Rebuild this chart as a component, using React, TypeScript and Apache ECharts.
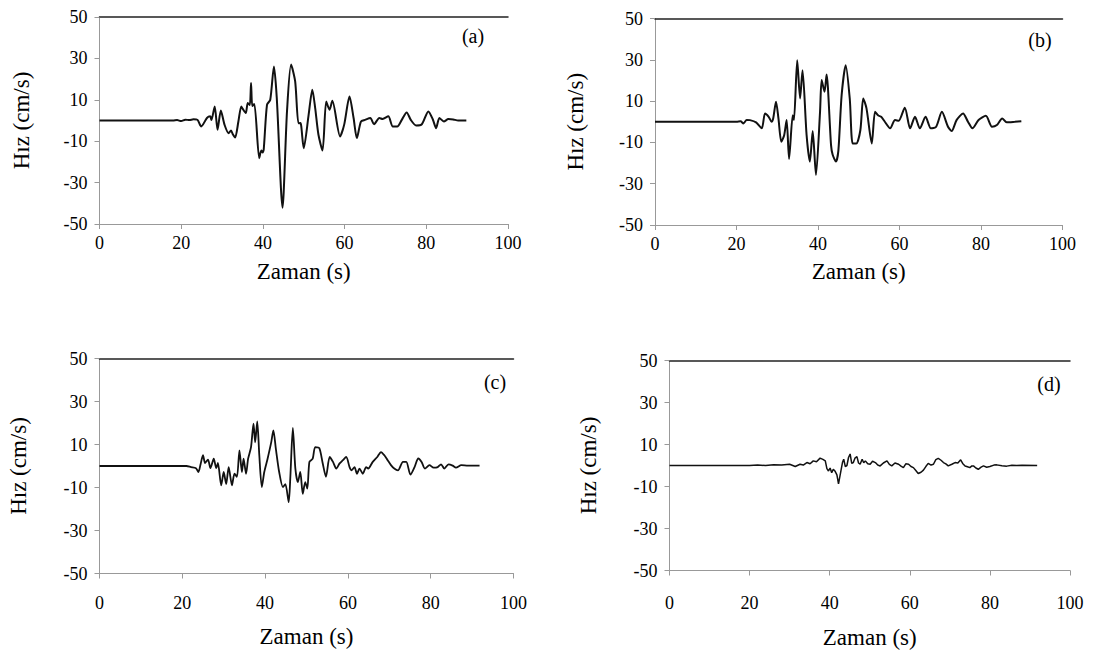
import React, { useEffect, useRef } from "react";
import * as echarts from "echarts";

const panelLabels = ["(a)", "(b)", "(c)", "(d)"];
const xTitle = "Zaman (s)";
const yTitle = "Hız (cm/s)";
const xMin = 0, xMax = 100, xStep = 20;
const yMin = -50, yMax = 50, yStep = 20;

const seriesA: number[][] = [[0,0],[18,0],[19,0.2],[20,-0.3],[21,0.4],[22,0.2],[23,0.6],[24,0.3],[24.9,-2.9],[26.3,1.2],[27.1,2],[27.4,0.2],[28.2,6.8],[28.9,-4.5],[29.7,4.8],[30.6,-2],[31.6,-6.1],[32.2,-4.8],[32.6,-6.5],[33.2,-8.2],[34.0,-0.5],[34.7,6.8],[35.1,5.5],[35.8,3.6],[36.3,8.4],[36.8,7.5],[37.1,18.1],[37.4,7],[37.9,8],[39.1,-18.2],[39.6,-14.5],[39.9,-15.5],[40.2,-14],[41.0,7.6],[41.8,10],[42.7,26.1],[43.4,10.8],[44.8,-42.1],[45.9,4.4],[46.9,27],[47.9,18.9],[48.7,-1.3],[49.2,-1.2],[49.4,-3],[50.0,-13.4],[51.2,2.8],[52.1,14.9],[52.8,6],[53.6,-6.9],[54.6,-14.5],[55.5,9.2],[56.3,5.2],[57.0,9.5],[58.9,-7.7],[59.9,-2],[61.2,11.6],[62.2,1.2],[63.0,-8.5],[64.0,-0.5],[65.0,0.3],[66.3,1.2],[67.2,-1.8],[68.5,1.2],[69.3,0.7],[70.7,2],[71.8,-2.9],[72.9,-2.9],[74.0,0.3],[75.2,3.9],[76.2,0.3],[77.5,-2.4],[78.9,-1.8],[80.5,4.4],[81.6,0.5],[82.4,-3.7],[83.2,1.2],[84.3,-0.5],[85.4,0.7],[86.6,0.5],[87.8,0],[89.8,0]];

const seriesB: number[][] = [[0,0],[20,0],[21,0.2],[21.7,-0.8],[22.5,0.9],[23.3,0.8],[24.8,-0.3],[26.2,-3.2],[27.0,4],[27.9,2.4],[28.6,0],[29.0,1.6],[29.7,9.7],[30.3,1.5],[31.0,-9.7],[31.7,-6.5],[32.3,0.8],[32.9,-18],[33.8,3.2],[34.1,0.8],[34.9,29.8],[35.6,11.3],[36.2,25],[37.2,-6.4],[38.0,-19.3],[38.7,-4.5],[39.5,-25.8],[40.5,4.8],[40.9,20.2],[41.6,14.5],[42.1,22.9],[43.2,-11.3],[43.6,-16],[44.4,-19.3],[45.0,-14],[45.8,12.9],[46.8,27.4],[47.8,11],[48.5,-10.5],[49.4,-10.5],[50.4,-4],[51.1,11.3],[51.9,6.5],[53.2,-10.5],[54.0,4.8],[54.8,3],[55.5,2.4],[56.4,0],[57.7,-3.2],[58.9,0.8],[59.8,0.5],[61.3,6.8],[62.6,-3.2],[63.8,2.4],[65.0,-3.2],[66.4,2.4],[67.7,-3.2],[69.0,-2.4],[70.4,4.8],[71.9,-2.4],[72.8,-4.5],[74.0,0.8],[75.6,4],[76.8,0],[77.9,-3.2],[79.4,0.8],[81.2,2.9],[82.7,-2.4],[83.9,-1.6],[85.2,1.6],[86.3,-0.3],[88.3,0],[89.9,0.3]];

const seriesC: number[][] = [[0,0],[21,0],[22.1,-0.5],[23.3,-1],[23.9,-2.8],[24.4,0.7],[25.0,5],[25.5,1.4],[26.2,3],[26.8,-1],[27.6,3.4],[28.2,-1],[28.6,1.4],[29.4,-9],[30.0,-2.8],[30.6,-8.4],[31.2,-0.5],[32.0,-9],[32.6,-3.6],[33.2,-5],[33.8,7.3],[34.4,-2.8],[34.8,3.4],[35.4,-3.6],[35.9,3.4],[36.6,8.8],[37.2,19.7],[37.6,11],[38.1,20.8],[38.6,5],[39.2,-9.8],[39.8,-2.8],[40.6,3.4],[41.5,11.2],[42.0,16.6],[42.6,8],[43.4,-2.8],[44.3,-9.8],[44.9,-8.4],[45.7,-16.8],[46.1,-5],[46.7,17.7],[47.3,-1],[47.9,-7.5],[48.5,-2.8],[49.1,-12.9],[49.7,-7.5],[50.2,-10.5],[50.7,1.9],[51.5,3.4],[52.1,8.8],[53.1,8.3],[53.9,1.4],[54.7,-5],[55.6,4.2],[56.4,1.9],[57.2,-1.2],[58.0,1.2],[58.8,2.7],[59.6,4.2],[60.4,-0.5],[60.9,-2],[61.6,-0.5],[62.2,-3.6],[62.8,-1.2],[63.6,-3.6],[64.4,-0.5],[64.9,-1.2],[66.0,1.9],[67.1,4.2],[68.0,6.5],[68.8,5],[69.6,2.7],[70.4,0.4],[71.2,-1.2],[72.1,-2],[73.3,1.9],[74.1,1.9],[75.1,-4],[76.1,-0.5],[77.0,3.5],[77.8,1.9],[78.6,-1.2],[79.7,0.4],[80.7,-0.8],[81.7,-0.5],[82.5,0.8],[83.3,-1.2],[84.3,0.8],[85.3,0.2],[86.1,-0.8],[87.4,0.4],[89.0,0.2],[91.8,0.2]];

const seriesD: number[][] = [[0,0],[20,0],[22,0.2],[24,0],[26,0.4],[28,0.2],[30,0.6],[31.4,-0.5],[32.6,0.6],[33.4,0.2],[34.3,1.4],[35.1,0.8],[35.9,2.2],[36.7,1.8],[37.6,3.5],[38.3,2.9],[38.9,2.2],[39.3,-1.5],[39.7,-2.6],[40.1,-1.2],[40.5,-3.4],[40.9,-1.8],[41.3,-2.6],[41.8,-4.5],[42.2,-8.7],[42.8,-2.6],[43.2,1.5],[43.5,3],[43.9,-0.5],[44.3,0],[44.7,3.8],[45.1,5.5],[45.5,1],[45.9,1.4],[46.3,3.5],[46.8,4.2],[47.2,1.2],[47.6,0.6],[48.1,3],[48.5,1.3],[48.9,2.2],[49.5,0.8],[50.1,0.6],[50.7,2],[51.4,1.4],[52.0,0.2],[52.6,-0.2],[53.4,1.2],[54.3,2.2],[54.9,0.5],[55.5,-0.2],[56.3,1.2],[57.2,0.6],[57.8,-0.3],[58.4,-1],[59.0,0.8],[59.7,0.6],[60.3,-0.5],[60.9,-1],[61.5,-2.4],[62.1,-3.8],[62.8,-3.2],[63.4,-2.2],[64.0,-0.5],[64.6,1],[65.3,0.2],[65.9,0.6],[66.5,2.8],[67.1,3.4],[67.8,2.5],[68.4,1.4],[69.0,0.8],[69.6,-0.2],[70.5,0.6],[71.3,1.4],[72.0,1.2],[72.7,2.7],[73.2,1],[73.8,-0.2],[74.4,-0.6],[75.0,-1],[75.5,-0.2],[75.9,-0.2],[76.5,-1.2],[77.1,-1.8],[77.8,-0.8],[78.4,-0.2],[79.2,-0.8],[80.0,-0.5],[81.0,0.2],[81.7,0.3],[83,-0.1],[84.2,-0.3],[85.5,0.1],[86.7,0],[88,0.1],[91.8,0]];

const allSeries = [seriesA, seriesB, seriesC, seriesD];

const FONT = "Liberation Serif";

const grids = [
  { left: 99.5, top: 17, width: 408.5, height: 207 },
  { left: 655, top: 18.5, width: 407.5, height: 206.5 },
  { left: 99.5, top: 358.5, width: 414, height: 215 },
  { left: 669.5, top: 360.5, width: 400.5, height: 210 },
];
const labelPos = [
  [473, 36],
  [1040, 40],
  [495, 382],
  [1049, 384],
];
const xLabelMargin = [10, 10, 20, 23];
const xNameGap = [36, 35, 51, 55];
const yNameGap = [67, 68, 70, 70];
const lineWidths = [2, 2, 1.8, 1.5];

export default function App() {
  const ref = useRef<HTMLDivElement>(null);
  useEffect(() => {
    if (!ref.current) return;
    const chart = echarts.init(ref.current, undefined, { renderer: "svg" });
    const xAxes: any[] = [];
    const yAxes: any[] = [];
    const series: any[] = [];
    grids.forEach((g, i) => {
      xAxes.push({
        gridIndex: i,
        type: "value",
        min: xMin,
        max: xMax,
        interval: xStep,
        position: "bottom",
        name: xTitle,
        nameLocation: "middle",
        nameGap: xNameGap[i],
        nameTextStyle: { fontFamily: FONT, fontSize: 23, color: "#000" },
        axisLine: { show: true, onZero: false, lineStyle: { color: "#999", width: 1 } },
        axisTick: { show: true, inside: false, length: 5, lineStyle: { color: "#999" } },
        axisLabel: { fontFamily: FONT, fontSize: 18, color: "#000", margin: xLabelMargin[i] },
        splitLine: { show: false },
      });
      xAxes.push({
        gridIndex: i,
        type: "value",
        min: xMin,
        max: xMax,
        position: "top",
        axisLine: { show: true, onZero: false, lineStyle: { color: "#222", width: 1.5 } },
        axisTick: { show: false },
        axisLabel: { show: false },
        splitLine: { show: false },
      });
      yAxes.push({
        gridIndex: i,
        type: "value",
        min: yMin,
        max: yMax,
        interval: yStep,
        name: yTitle,
        nameLocation: "middle",
        nameGap: yNameGap[i],
        nameTextStyle: { fontFamily: FONT, fontSize: 23, color: "#000" },
        axisLine: { show: true, onZero: false, lineStyle: { color: "#999", width: 1 } },
        axisTick: { show: true, inside: false, length: 5, lineStyle: { color: "#999" } },
        axisLabel: { fontFamily: FONT, fontSize: 18, color: "#000", margin: 12 },
        splitLine: { show: false },
      });
      series.push({
        type: "line",
        xAxisIndex: i * 2,
        yAxisIndex: i,
        data: allSeries[i],
        showSymbol: false,
        smooth: i === 3 ? false : 0.25,
        lineStyle: { color: "#111", width: lineWidths[i] },
      });
    });
    chart.setOption({
      animation: false,
      backgroundColor: "#fff",
      textStyle: { fontFamily: FONT },
      grid: grids,
      xAxis: xAxes,
      yAxis: yAxes,
      series,
      graphic: panelLabels.map((t, i) => ({
        type: "text",
        x: labelPos[i][0],
        y: labelPos[i][1],
        style: {
          text: t,
          fontFamily: FONT,
          fontSize: 20,
          fill: "#000",
          align: "center",
          verticalAlign: "middle",
        },
      })),
    });
    return () => chart.dispose();
  }, []);
  return (
    <div
      ref={ref}
      style={{ position: "fixed", left: 0, top: 0, width: 1105, height: 656, background: "#fff" }}
    />
  );
}
